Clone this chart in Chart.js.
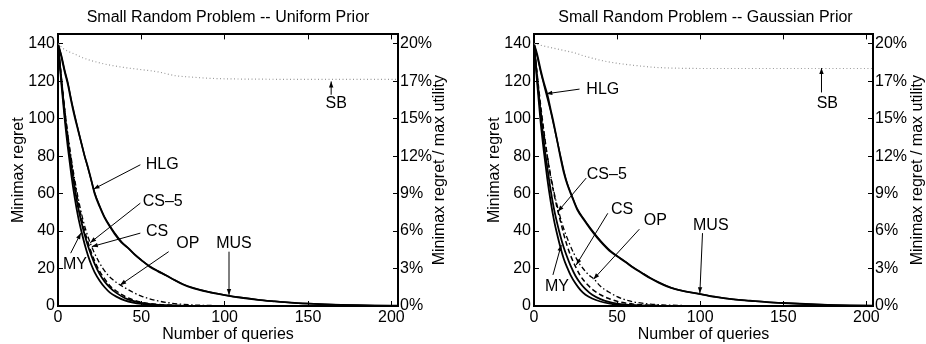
<!DOCTYPE html>
<html><head><meta charset="utf-8">
<script src="https://cdn.jsdelivr.net/npm/chart.js@4.4.1/dist/chart.umd.min.js"></script>
<style>
html,body{margin:0;padding:0;background:#fff;}
#wrap{display:flex;width:926px;height:344px;}
canvas{display:block;}
</style></head><body>
<div id="wrap"><canvas id="c1" width="463" height="344"></canvas><canvas id="c2" width="463" height="344"></canvas></div>
<script>
// ---------- data ----------
const xTicks = [0, 50, 100, 150, 200];
const yTicks = [0, 20, 40, 60, 80, 100, 120, 140];
const pctLabels = ['0%', '3%', '6%', '9%', '12%', '15%', '17%', '20%'];

// Uniform prior (left)
const uniSB  = [[0,140],[3,137.5],[6,136],[10,134.5],[15,132.5],[20,131],[25,129.8],[30,128.8],[40,127.3],[50,126.2],[60,125],[65,124],[70,123],[80,122.2],[90,121.6],[100,121.3],[120,121.1],[150,121],[204,121]];
const uniHLG = [[0,140],[2,133],[4,125],[6,118],[8,109],[10,101],[12,94],[14,87],[16,80],[18,74],[20,67],[22,60],[25,53],[28,47],[31,42.5],[34,38.5],[38,34],[42,31],[46,27.5],[50,24.5],[55,21],[60,18.5],[65,16.3],[70,13.8],[75,11.5],[80,9.8],[90,7.5],[100,5.8],[110,4.4],[120,3.3],[130,2.5],[140,1.8],[150,1.3],[160,0.9],[170,0.6],[180,0.4],[190,0.25],[204,0.15]];
const uniMUS = [[0,140],[2,134],[4,126],[6,119],[8,110],[10,102],[12,94.5],[14,87],[16,80],[18,73.5],[20,67],[22,60.5],[25,53.5],[28,47.5],[31,43],[34,39],[38,34.5],[42,31],[46,27.5],[50,24.5],[55,21.3],[60,18.7],[65,16.3],[70,13.8],[75,11.7],[80,10],[90,7.6],[100,5.9],[110,4.5],[120,3.4],[130,2.5],[140,1.8],[150,1.3],[160,0.9],[170,0.6],[180,0.4],[190,0.25],[204,0.15]];
const uniMY  = [[0,140],[2,119],[4,100],[6,84],[8,70],[10,58],[12,48],[14,40],[16,33],[18,27],[20,22],[22,18],[25,13.5],[28,10],[31,7.3],[35,5],[40,3],[45,1.8],[50,1.1],[60,0.4],[70,0.15],[80,0.05],[100,0],[204,0]];
const uniCS  = [[0,140],[2,121],[4,103],[6,88],[8,75],[10,63],[12,53],[14,45],[16,38],[18,32],[20,27],[22,22.5],[25,17],[28,13],[31,10],[35,7],[40,4.3],[45,2.7],[50,1.6],[60,0.6],[70,0.25],[80,0.1],[100,0],[204,0]];
const uniCS5 = [[0,140],[2,122],[4,105],[6,90],[8,77],[10,66],[12,56],[14,47.5],[16,40],[18,34],[20,28.5],[22,24],[25,18.5],[28,14.5],[31,11],[35,8],[40,5.2],[45,3.3],[50,2],[55,1.3],[60,0.8],[70,0.3],[80,0.1],[100,0],[204,0]];
const uniOP  = [[0,140],[3,113],[6,91],[9,73],[12,58],[15,46],[18,37],[21,30],[24,24.5],[27,20],[30,16.5],[33,14],[36,12],[40,9.8],[45,7.3],[50,5.3],[55,3.8],[60,2.7],[65,1.9],[70,1.3],[80,0.6],[90,0.3],[100,0.15],[120,0],[204,0]];

// Gaussian prior (right)
const gauSB  = [[0,140],[5,139],[10,138],[15,137],[20,136],[25,135],[30,133.5],[35,132.3],[40,131.2],[45,130.3],[50,129.6],[55,129],[60,128.5],[70,127.6],[80,127.1],[90,126.9],[100,126.8],[204,126.8]];
const gauHLG = [[0,140],[2,134],[4,126],[6,119],[8,113],[10,105],[12,97],[14,88],[16,79],[18,71],[20,65],[23,58],[26,51.5],[30,46],[34,41],[38,36.5],[42,32.5],[46,29],[50,26.5],[55,23.5],[60,20.3],[65,17.5],[70,14.8],[75,12.5],[80,10.5],[85,9],[90,8],[100,6.4],[110,4.7],[120,3.5],[130,2.8],[140,2.1],[150,1.6],[160,1.2],[170,0.8],[180,0.5],[190,0.3],[204,0.2]];
const gauMUS = [[0,140],[2,133],[4,125],[6,118],[8,111],[10,104],[12,96],[14,88],[16,80],[18,72],[20,65.5],[23,58.5],[26,52],[30,46.5],[34,41.5],[38,37],[42,33],[46,29.5],[50,26.8],[55,23.7],[60,20.5],[65,17.7],[70,15],[75,12.7],[80,10.7],[85,9.1],[90,8],[100,6.4],[110,4.8],[120,3.6],[130,2.8],[140,2.1],[150,1.6],[160,1.2],[170,0.8],[180,0.5],[190,0.3],[204,0.2]];
const gauMY  = [[0,140],[2,118],[4,98],[6,82],[8,68],[10,56],[12,46],[14,38],[16,31],[18,25],[20,20.5],[22,16.5],[25,12],[28,8.5],[31,6],[35,4],[40,2.4],[45,1.4],[50,0.8],[60,0.3],[70,0.1],[80,0.05],[100,0],[204,0]];
const gauCS  = [[0,140],[2,121],[4,103],[6,87],[8,74],[10,62],[12,52],[14,44],[16,37],[18,31],[20,26],[22,21.5],[25,16],[28,12],[31,9],[35,6],[40,3.7],[45,2.2],[50,1.3],[60,0.5],[70,0.2],[80,0.1],[100,0],[204,0]];
const gauCS5 = [[0,140],[2,123],[4,107],[6,93],[8,80],[10,69],[12,60],[14,52],[16,45],[18,38],[20,32],[22,27],[25,21],[28,16],[31,12.5],[35,9],[40,6],[45,4],[50,2.5],[55,1.6],[60,1],[70,0.4],[80,0.15],[100,0.05],[204,0]];
const gauOP  = [[0,140],[3,113],[6,92],[9,75],[12,61],[15,50],[18,41],[21,34],[24,28],[27,23],[30,19.5],[33,16.5],[36,14.5],[40,10.5],[45,7.5],[50,5],[55,3.3],[60,2.2],[65,1.5],[70,1],[80,0.5],[90,0.25],[100,0.1],[120,0],[204,0]];

// annotation labels: text, label centre, arrow start, arrow tip (data units)
const uniNotes = [
  ['HLG', [62.5,75.4], [49.4,75.4], [21.3,62.4]],
  ['CS\u20135', [62.8,55.7], [49.4,54.9], [19.3,33.8]],
  ['CS', [59.4,39.7], [49.4,38.9], [20.3,31.7]],
  ['OP', [77.9,33.1], [66.4,29], [37.3,11.2]],
  ['MUS', [105.6,33.1], [102.6,29], [102.6,5.9]],
  ['MY', [10.2,21.9], [7.6,28.2], [13.7,38.9]],
  ['SB', [166.9,108.3], [163.9,112.8], [163.9,119.9]]
];
const gauNotes = [
  ['HLG', [41.4,115.4], [27.4,115.8], [7.4,113.3]],
  ['CS\u20135', [43.8,70], [31.4,68.3], [14.4,50.4]],
  ['CS', [53,51.7], [44.4,49.5], [25.4,21.9]],
  ['OP', [73,45.6], [63.4,41], [35.8,14.3]],
  ['MUS', [106.4,42.8], [101.4,38.9], [99.8,6.8]],
  ['MY', [13.8,10.3], [11.4,16.6], [16.4,32.6]],
  ['SB', [176.5,108], [173,114], [173,127]]
];

// ---------- rendering ----------
const FONT = "'Liberation Sans', Arial, Helvetica, sans-serif";
const FS = 16;
Chart.defaults.font.family = FONT;
Chart.defaults.font.size = FS;
Chart.defaults.color = '#000';
const X_MAX = 204, Y_MAX = 145;

const styles = {
  SB:   {borderColor:'#9a9a9a', borderWidth:1.2, borderDash:[1,2.5]},
  HLG:  {borderColor:'#000', borderWidth:1.8},
  MUS:  {borderColor:'#000', borderWidth:1.5},
  MY:   {borderColor:'#000', borderWidth:1.8},
  CS:   {borderColor:'#000', borderWidth:1.8},
  CS5:  {borderColor:'#000', borderWidth:1.5, borderDash:[5,3]},
  OP:   {borderColor:'#000', borderWidth:1.3, borderDash:[5,2.5,1.5,2.5]}
};

function ds(label, pts, st) {
  return Object.assign({label, data: pts.map(p => ({x:p[0], y:p[1]})),
    pointRadius:0, fill:false, cubicInterpolationMode:'monotone'}, st);
}

function notesPlugin(items, rightTitle, rightTitleX) {
  return {
    id: 'notes',
    afterDatasetsDraw(chart) {
      const {ctx, chartArea} = chart, sx = chart.scales.x, sy = chart.scales.y;
      ctx.save();
      ctx.font = FS + 'px ' + FONT;
      ctx.fillStyle = '#000'; ctx.strokeStyle = '#000'; ctx.lineWidth = 1;
      ctx.textAlign = 'center'; ctx.textBaseline = 'middle';
      for (const [text, at, from, to] of items) {
        const x0 = sx.getPixelForValue(from[0]), y0 = sy.getPixelForValue(from[1]);
        const x1 = sx.getPixelForValue(to[0]), y1 = sy.getPixelForValue(to[1]);
        ctx.beginPath(); ctx.moveTo(x0, y0); ctx.lineTo(x1, y1); ctx.stroke();
        const a = Math.atan2(y1 - y0, x1 - x0), L = 6, W = 2.2;
        ctx.beginPath(); ctx.moveTo(x1, y1);
        ctx.lineTo(x1 - L*Math.cos(a) + W*Math.sin(a), y1 - L*Math.sin(a) - W*Math.cos(a));
        ctx.lineTo(x1 - L*Math.cos(a) - W*Math.sin(a), y1 - L*Math.sin(a) + W*Math.cos(a));
        ctx.closePath(); ctx.fill();
        ctx.fillText(text, sx.getPixelForValue(at[0]), sy.getPixelForValue(at[1]));
      }
      // right-hand axis title, read bottom-to-top as in the original
      ctx.translate(rightTitleX, (chartArea.top + chartArea.bottom) / 2);
      ctx.rotate(-Math.PI / 2);
      ctx.fillText(rightTitle, 0, 0);
      ctx.restore();
    }
  };
}

function makeChart(id, title, series, notes, L) {
  const grid = {drawOnChartArea:false, tickLength:-5, color:'#000', lineWidth:1};
  const border = {display:true, color:'#000', width:2};
  const setX = s => { s.ticks = xTicks.map(v => ({value:v})); };
  const setY = s => { s.ticks = yTicks.map(v => ({value:v})); };
  return new Chart(document.getElementById(id), {
    type: 'line',
    data: {datasets: [
      ds('SB', series.SB, styles.SB),
      ds('OP', series.OP, styles.OP),
      ds('CS-5', series.CS5, styles.CS5),
      ds('CS', series.CS, styles.CS),
      ds('MY', series.MY, styles.MY),
      ds('MUS', series.MUS, styles.MUS),
      ds('HLG', series.HLG, styles.HLG)
    ]},
    options: {
      responsive: false, animation: false, devicePixelRatio: 1,
      layout: {padding: {left:L.padL, right:L.padR, top:0, bottom:0}},
      plugins: {
        legend: {display:false}, tooltip: {enabled:false},
        title: {display:true, text:title, color:'#000', font:{size:FS, weight:'normal'}, padding:{top:7.6, bottom:7.6}}
      },
      scales: {
        x: {type:'linear', position:'bottom', min:0, max:X_MAX, afterBuildTicks:setX,
            afterFit: s => { s.height = 38; },
            ticks:{padding:7, maxRotation:0, autoSkip:false},
            grid, border,
            title:{display:true, text:'Number of queries', padding:{top:0, bottom:0}}},
        xTop: {type:'linear', position:'top', min:0, max:X_MAX, afterBuildTicks:setX,
            afterFit: s => { s.height = 0; },
            ticks:{display:false}, grid, border},
        y: {type:'linear', position:'left', min:0, max:Y_MAX, afterBuildTicks:setY,
            afterFit: s => { s.width = L.yW; },
            ticks:{padding:8},
            grid, border,
            title:{display:true, text:'Minimax regret', padding:{top:L.yTP, bottom:0}}},
        y2: {type:'linear', position:'right', min:0, max:Y_MAX, afterBuildTicks:setY,
            afterFit: s => { s.width = L.y2W; },
            ticks:{padding:7, callback: v => pctLabels[yTicks.indexOf(v)]},
            grid, border}
      }
    },
    plugins: [notesPlugin(notes, 'Minimax regret / max utility', L.y2TX)]
  });
}

makeChart('c1', 'Small Random Problem -- Uniform Prior',
  {SB:uniSB, HLG:uniHLG, MUS:uniMUS, MY:uniMY, CS:uniCS, CS5:uniCS5, OP:uniOP}, uniNotes,
  {padL:0, padR:7, yW:58, y2W:58, yTP:8.7, y2TX:440});
makeChart('c2', 'Small Random Problem -- Gaussian Prior',
  {SB:gauSB, HLG:gauHLG, MUS:gauMUS, MY:gauMY, CS:gauCS, CS5:gauCS5, OP:gauOP}, gauNotes,
  {padL:22, padR:0, yW:49, y2W:53, yTP:0.1, y2TX:455});
</script>
</body></html>
